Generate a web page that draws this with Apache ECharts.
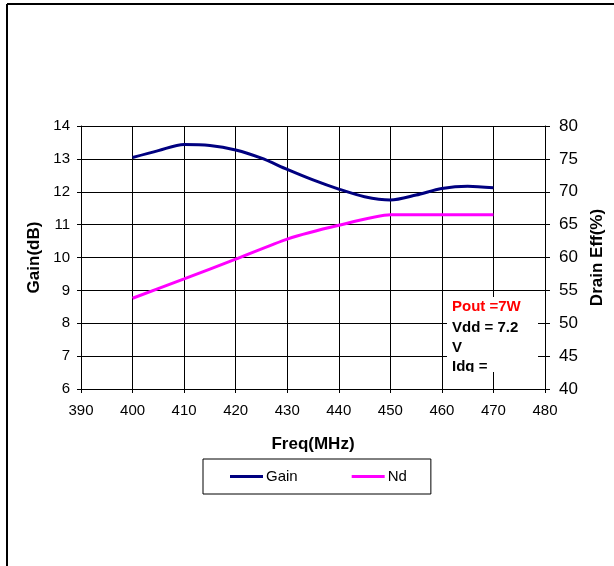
<!DOCTYPE html>
<html><head><meta charset="utf-8">
<script src="https://cdn.jsdelivr.net/npm/echarts@6/dist/echarts.min.js"></script>
<style>html,body{margin:0;padding:0;background:#fff}#c{width:614px;height:566px}</style>
</head><body><div id="c"></div>
<script>
const freqGain = [400,405,410,415,420,425,430,435,440,445,450,455,460,465,470];
const gainValues = [13.04,13.25,13.44,13.41,13.27,13.02,12.68,12.36,12.08,11.85,11.75,11.9,12.1,12.17,12.12];
const freqNd = [400,410,420,430,440,450,460,470];
const ndValues = [53.8,56.75,59.74,62.8,64.9,66.5,66.5,66.5];
const xTicks = {min:390, max:480, interval:10};
const gainTicks = {min:6, max:14, interval:1};
const effTicks = {min:40, max:80, interval:5};
const noteLines = ['Pout =7W','Vdd = 7.2','V','Idq ='];

const F = 'Liberation Sans, Arial, sans-serif';
const chart = echarts.init(document.getElementById('c'), null, {renderer:'canvas'});
const gainData = freqGain.map((f,i)=>[f,gainValues[i]]);
const ndData = freqNd.map((f,i)=>[f,ndValues[i]]);
chart.setOption({
  animation:false,
  backgroundColor:'#fff',
  grid:{left:81, right:69, top:126, bottom:177, containLabel:false, outerBoundsMode:'none'},
  xAxis:{type:'value', min:xTicks.min, max:xTicks.max, interval:xTicks.interval,
    name:'Freq(MHz)', nameLocation:'middle', nameGap:47,
    nameTextStyle:{fontFamily:F, fontWeight:'bold', fontSize:17, color:'#000'},
    axisLine:{lineStyle:{color:'#000', width:1}},
    axisTick:{show:true, length:4, lineStyle:{color:'#000'}},
    axisLabel:{fontFamily:F, fontSize:15, color:'#000', margin:14},
    splitLine:{show:true, lineStyle:{color:'#000', width:1}}},
  yAxis:[
    {type:'value', min:gainTicks.min, max:gainTicks.max, interval:gainTicks.interval, position:'left',
     name:'Gain(dB)', nameLocation:'middle', nameGap:37, nameRotate:90,
     nameTextStyle:{fontFamily:F, fontWeight:'bold', fontSize:17, color:'#000'},
     axisLine:{show:true, lineStyle:{color:'#000'}},
     axisTick:{show:true, length:4, lineStyle:{color:'#000'}},
     axisLabel:{fontFamily:F, fontSize:15, color:'#000', margin:11},
     splitLine:{show:true, lineStyle:{color:'#000', width:1}}},
    {type:'value', min:effTicks.min, max:effTicks.max, interval:effTicks.interval, position:'right',
     name:'Drain Eff(%)', nameLocation:'middle', nameGap:40, nameRotate:90,
     nameTextStyle:{fontFamily:F, fontWeight:'bold', fontSize:17, color:'#000'},
     axisLine:{show:true, lineStyle:{color:'#000'}},
     axisTick:{show:true, length:5, lineStyle:{color:'#000'}},
     axisLabel:{fontFamily:F, fontSize:17, color:'#000', margin:14},
     splitLine:{show:false}},
    {type:'value', min:effTicks.min, max:effTicks.max, interval:effTicks.interval, position:'right',
     axisLine:{show:false},
     axisTick:{show:true, inside:true, length:5, lineStyle:{color:'#000'}},
     axisLabel:{show:false}, splitLine:{show:false}}
  ],
  legend:{left:203, top:459, orient:'horizontal', icon:'rect', itemWidth:33, itemHeight:3, itemGap:54,
    padding:[10,24,10,27], borderColor:'#000', borderWidth:1, backgroundColor:'#fff',
    textStyle:{fontFamily:F, fontSize:15, color:'#000', padding:[0,0,0,-2], height:14, lineHeight:14},
    data:['Gain','Nd']},
  series:[
    {name:'Gain', type:'line', yAxisIndex:0, data:gainData, smooth:0.3, symbol:'none',
     lineStyle:{color:'#000080', width:3}, itemStyle:{color:'#000080'}, z:5},
    {name:'Nd', type:'line', yAxisIndex:1, data:ndData, smooth:0.2, symbol:'none',
     lineStyle:{color:'#FF00FF', width:3}, itemStyle:{color:'#FF00FF'}, z:5}
  ],
  graphic:[
    {type:'line', shape:{x1:7, y1:4, x2:614, y2:4}, style:{stroke:'#000', lineWidth:2}},
    {type:'line', shape:{x1:7, y1:4, x2:7, y2:566}, style:{stroke:'#000', lineWidth:2}},
    {type:'rect', shape:{x:447, y:297, width:91, height:75}, style:{fill:'#fff'}, z:10},
    {type:'text', x:452, y:307, z:11, style:{text:noteLines[0], fill:'#FF0000', font:'bold 15px '+F, textVerticalAlign:'middle'}},
    {type:'text', x:452, y:327.5, z:11, style:{text:noteLines[1], fill:'#000', font:'bold 15px '+F, textVerticalAlign:'middle'}},
    {type:'text', x:452, y:347.5, z:11, style:{text:noteLines[2], fill:'#000', font:'bold 15px '+F, textVerticalAlign:'middle'}},
    {type:'text', x:452, y:367, z:11, style:{text:noteLines[3], fill:'#000', font:'bold 15px '+F, textVerticalAlign:'middle'}},
    {type:'rect', shape:{x:448, y:372, width:42, height:12}, style:{fill:'#fff'}, z:12}
  ]
});
</script></body></html>
